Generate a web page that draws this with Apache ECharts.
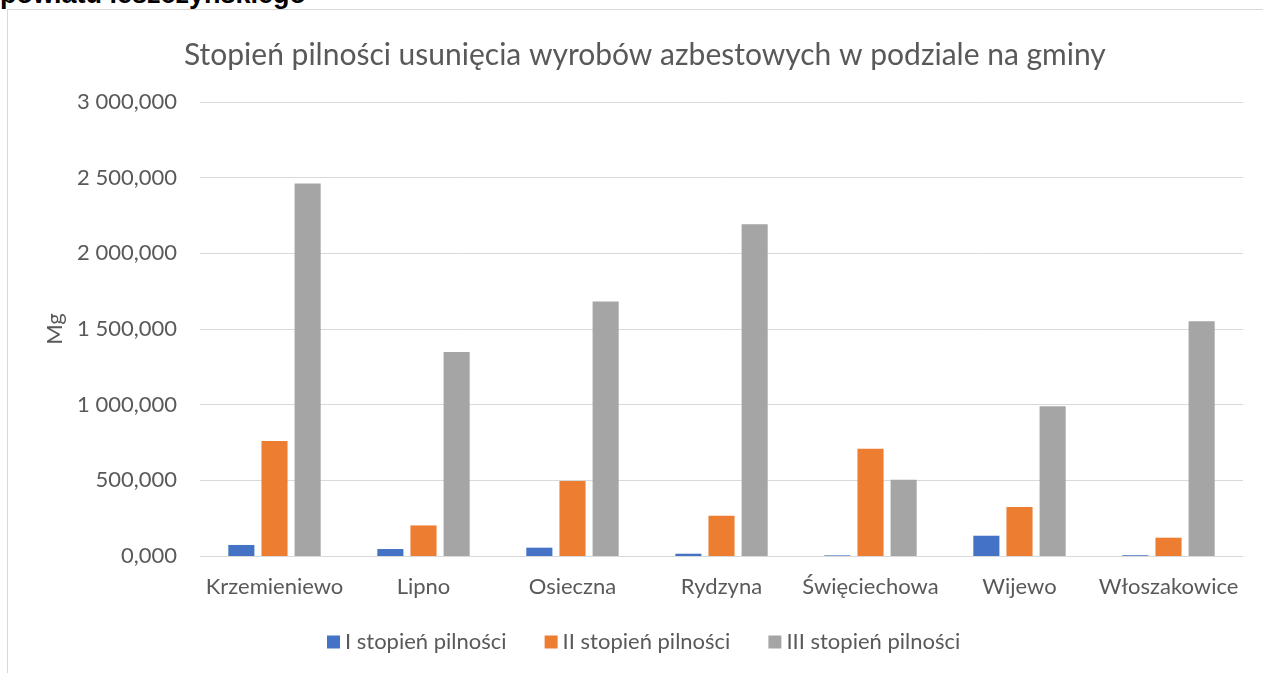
<!DOCTYPE html>
<html lang="pl">
<head>
    <meta charset="UTF-8">
    <title>Stopień pilności</title>
    <style>
        html, body { margin: 0; padding: 0; background: #fff; overflow: hidden; }
        #head { position: absolute; left: 0; top: -21px; font: bold 27px "Liberation Sans", Arial, sans-serif; color: #000; white-space: nowrap; }
        #frame { position: absolute; left: 7px; top: 9px; width: 1270px; height: 680px; border: 1px solid #d9d9d9; }
        #main { position: absolute; left: 0; top: 0; width: 1263px; height: 673px; }
    </style>
</head>
<body>
<div id="head">powiatu leszczyńskiego</div>
<div id="frame"></div>
<div id="main"></div>

<script src="https://cdn.jsdelivr.net/npm/echarts@6/dist/echarts.min.js"></script>
<script type="text/javascript">
    // dane (Mg)
    var gminy = ['Krzemieniewo', 'Lipno', 'Osieczna', 'Rydzyna', 'Święciechowa', 'Wijewo', 'Włoszakowice'];
    var stopien1 = [73, 46, 55, 15, 4, 134, 5];
    var stopien2 = [760, 202, 496, 266, 709, 324, 121];
    var stopien3 = [2461, 1348, 1682, 2192, 504, 989, 1552];
    var nazwySerii = ['I stopień pilności', 'II stopień pilności', 'III stopień pilności'];

    var font = 'Lato, "Open Sans", sans-serif';

    // format polski: 3 000,000
    function fmt(v) {
        var s = v.toFixed(3).split('.');
        return s[0].replace(/\B(?=(\d{3})+(?!\d))/g, ' ') + ',' + s[1];
    }

    var myChart = echarts.init(document.getElementById('main'));

    myChart.setOption({
        animation: false,
        backgroundColor: 'transparent',
        color: ['#4472C4', '#ED7D31', '#A5A5A5'],
        title: {
            text: 'Stopień pilności usunięcia wyrobów azbestowych w podziale na gminy',
            left: 179,
            top: 35,
            textStyle: {fontFamily: font, fontSize: 30, fontWeight: 'normal', color: '#595959'}
        },
        legend: {
            bottom: 15,
            left: 322,
            itemWidth: 13,
            itemHeight: 13,
            itemGap: 38,
            icon: 'rect',
            textStyle: {fontFamily: font, fontSize: 22, color: '#595959'},
            data: nazwySerii
        },
        grid: {
            left: 200,
            right: 20,
            top: 102,
            bottom: 117
        },
        xAxis: {
            type: 'category',
            data: gminy,
            axisTick: {show: false},
            axisLine: {lineStyle: {color: '#d9d9d9', width: 1}},
            axisLabel: {fontFamily: font, fontSize: 22, color: '#595959', margin: 20, interval: 0}
        },
        yAxis: {
            type: 'value',
            name: 'Mg',
            nameLocation: 'middle',
            nameGap: 121,
            nameTextStyle: {fontFamily: font, fontSize: 22, color: '#595959'},
            min: 0,
            max: 3000,
            interval: 500,
            axisLine: {show: false},
            axisTick: {show: false},
            splitLine: {lineStyle: {color: '#d9d9d9', width: 1}},
            axisLabel: {fontFamily: font, fontSize: 22, color: '#595959', margin: 23, formatter: fmt}
        },
        series: [
            {name: nazwySerii[0], type: 'bar', data: stopien1, barGap: '27%', barCategoryGap: '38%'},
            {name: nazwySerii[1], type: 'bar', data: stopien2, barGap: '27%', barCategoryGap: '38%'},
            {name: nazwySerii[2], type: 'bar', data: stopien3, barGap: '27%', barCategoryGap: '38%'}
        ]
    });
    window.addEventListener("resize", function () {
        myChart.resize();
    });
</script>
</body>
</html>
